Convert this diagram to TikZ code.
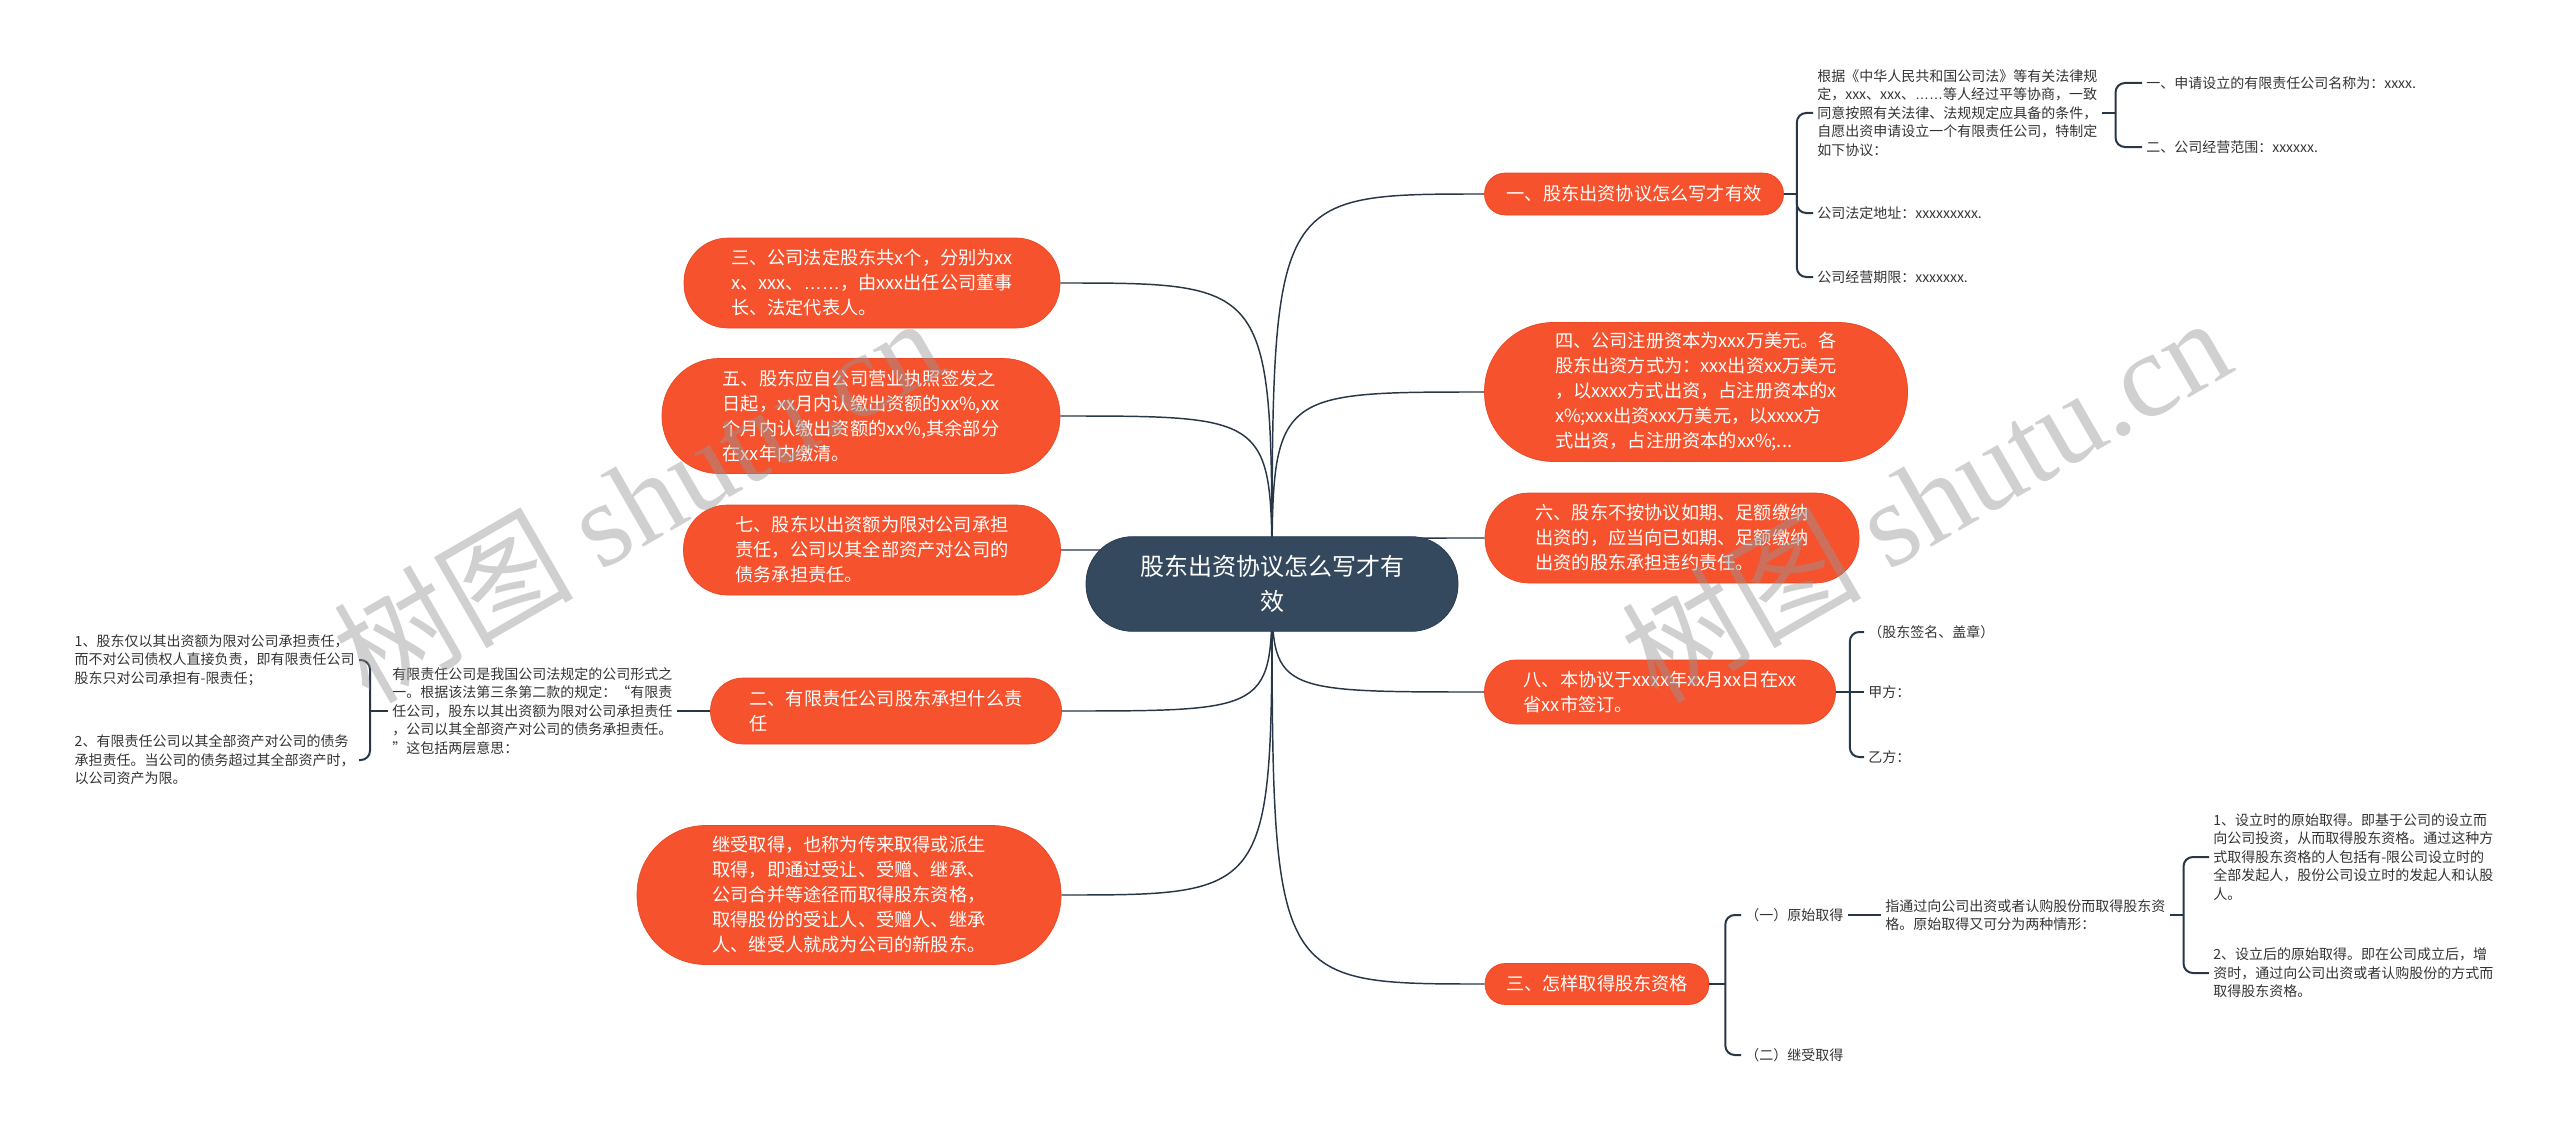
\documentclass[tikz,border=0pt]{standalone}
\usepackage{fontspec}
\setmainfont{Noto Sans CJK SC}
\newfontfamily\wmserif{Liberation Serif}
\newfontfamily\latsans{Liberation Sans}
\newcommand{\bdots}{{\latsans ……}}
\usetikzlibrary{backgrounds}
\definecolor{orng}{RGB}{245,82,45}
\definecolor{orngd}{RGB}{232,72,38}
\definecolor{rootc}{RGB}{52,72,94}
\definecolor{linec}{RGB}{40,55,72}
\definecolor{txtc}{RGB}{51,51,51}
\definecolor{wmc}{RGB}{150,150,150}
\begin{document}
\begin{tikzpicture}[x=0.75pt,y=-0.75pt,
 onode/.style={fill=orng, draw=orngd, line width=0.5pt, text=white, align=left, inner sep=0pt, font=\fontsize{13.65pt}{18.75pt}\selectfont},
 osize/.style n args={3}{minimum width=#1, minimum height=#2, rounded corners=#3},
 leaf/.style={align=left, inner xsep=3pt, inner ysep=1pt, text=txtc, font=\fontsize{10.5pt}{13.9pt}\selectfont},
 conn/.style={draw=linec, line width=1.1pt},
 brk/.style={draw=linec, line width=1.5pt, rounded corners=7pt},
 wm/.style={text=wmc, text opacity=0.45, rotate=30, inner sep=0pt, font=\fontsize{90pt}{90pt}\selectfont}
]
\useasboundingbox (0,0) rectangle (2560,1131);

% root
\node[fill=rootc, draw=rootc!85!black, line width=0.6pt, text=white, align=center, inner sep=0pt,
  minimum width=279pt, minimum height=71pt, rounded corners=35pt,
  font=\fontsize{18pt}{26.25pt}\selectfont] (root) at (1272,584) {股东出资协议怎么写才有\\效};

% left main nodes
\node[onode, osize={282pt}{67.5pt}{33pt}] (L1) at (872,283) {三、公司法定股东共x个，分别为xx\\x、xxx、\bdots，由xxx出任公司董事\\长、法定代表人。};
\node[onode, osize={298.5pt}{86.25pt}{42.5pt}] (L2) at (861,416) {五、股东应自公司营业执照签发之\\日起，xx月内认缴出资额的xx\%,xx\\个月内认缴出资额的xx\%,其余部分\\在xx年内缴清。};
\node[onode, osize={282.75pt}{67.5pt}{33pt}] (L3) at (872,550) {七、股东以出资额为限对公司承担\\责任，公司以其全部资产对公司的\\债务承担责任。};
\node[onode, osize={263.25pt}{49.5pt}{24.5pt}] (L4) at (886,711) {二、有限责任公司股东承担什么责\\任};
\node[onode, osize={318pt}{104.25pt}{51.5pt}] (L5) at (849,895) {继受取得，也称为传来取得或派生\\取得，即通过受让、受赠、继承、\\公司合并等途径而取得股东资格，\\取得股份的受让人、受赠人、继承\\人、继受人就成为公司的新股东。};

% right main nodes
\node[onode, osize={224.25pt}{31.5pt}{15.5pt}] (R1) at (1634,194) {一、股东出资协议怎么写才有效};
\node[onode, osize={317.25pt}{104.25pt}{51.5pt}] (R2) at (1696,392) {四、公司注册资本为xxx万美元。各\\股东出资方式为：xxx出资xx万美元\\，以xxxx方式出资，占注册资本的x\\x\%;xxx出资xxx万美元，以xxxx方\\式出资，占注册资本的xx\%;...};
\node[onode, osize={280.5pt}{67.5pt}{33pt}] (R3) at (1672,538) {六、股东不按协议如期、足额缴纳\\出资的，应当向已如期、足额缴纳\\出资的股东承担违约责任。};
\node[onode, osize={263.25pt}{48pt}{23.5pt}] (R4) at (1660,692) {八、本协议于xxxx年xx月xx日在xx\\省xx市签订。};
\node[onode, osize={168pt}{30.75pt}{15pt}] (R5) at (1597,984) {三、怎样取得股东资格};

% leaves of R1
\node[leaf, anchor=west] (T1) at (1813,113) {根据《中华人民共和国公司法》等有关法律规\\定，xxx、xxx、\bdots 等人经过平等协商，一致\\同意按照有关法律、法规规定应具备的条件，\\自愿出资申请设立一个有限责任公司，特制定\\如下协议：};
\node[leaf, anchor=west] (T1a) at (2142,83) {一、申请设立的有限责任公司名称为：xxxx.};
\node[leaf, anchor=west] (T1b) at (2142,147) {二、公司经营范围：xxxxxx.};
\node[leaf, anchor=west] (T2) at (1813,213) {公司法定地址：xxxxxxxxx.};
\node[leaf, anchor=west] (T3) at (1813,277) {公司经营期限：xxxxxxx.};

% leaves of R4
\node[leaf, anchor=west] (S1) at (1864,632) {（股东签名、盖章）};
\node[leaf, anchor=west] (S2) at (1864,692) {甲方：};
\node[leaf, anchor=west] (S3) at (1864,757) {乙方：};

% leaves of R5
\node[leaf, anchor=west] (P1) at (1741,915) {（一）原始取得};
\node[leaf, anchor=west] (P2) at (1741,1055) {（二）继受取得};
\node[leaf, anchor=west] (Q) at (1881,915) {指通过向公司出资或者认购股份而取得股东资\\格。原始取得又可分为两种情形：};
\node[leaf, anchor=west] (Q1) at (2209,857) {1、设立时的原始取得。即基于公司的设立而\\向公司投资，从而取得股东资格。通过这种方\\式取得股东资格的人包括有-限公司设立时的\\全部发起人，股份公司设立时的发起人和认股\\人。};
\node[leaf, anchor=west] (Q2) at (2209,973) {2、设立后的原始取得。即在公司成立后，增\\资时，通过向公司出资或者认购股份的方式而\\取得股东资格。};

% leaves of L4
\node[leaf, anchor=west] (D) at (388,711) {有限责任公司是我国公司法规定的公司形式之\\一。根据该法第三条第二款的规定：“有限责\\任公司，股东以其出资额为限对公司承担责任\\，公司以其全部资产对公司的债务承担责任。\\”这包括两层意思：};
\node[leaf, anchor=east] (C1) at (359,660) {1、股东仅以其出资额为限对公司承担责任，\\而不对公司债权人直接负责，即有限责任公司\\股东只对公司承担有-限责任；};
\node[leaf, anchor=east] (C2) at (359,760) {2、有限责任公司以其全部资产对公司的债务\\承担责任。当公司的债务超过其全部资产时，\\以公司资产为限。};

\begin{pgfonlayer}{background}
\foreach \n in {R1,R2,R3,R4,R5}
  \draw[conn] (root.center) .. controls (root.center |- \n.west) .. (\n.west);
\foreach \n in {L1,L2,L3,L4,L5}
  \draw[conn] (root.center) .. controls (root.center |- \n.east) .. (\n.east);
\end{pgfonlayer}

% R1 bracket
\draw[brk] (R1.east) -- ++(13,0) coordinate (b1);
\draw[brk] (b1) |- (T1.west);
\draw[brk] (b1) |- (T2.west);
\draw[brk] (b1) |- (T3.west);
% T1 bracket
\draw[brk] (T1.east) -- ++(14,0) coordinate (b2);
\draw[brk] (b2) |- (T1a.west);
\draw[brk] (b2) |- (T1b.west);
% R4 bracket
\draw[brk] (R4.east) -- ++(14,0) coordinate (b3);
\draw[brk] (b3) |- (S1.west);
\draw[brk] (R4.east) -- (S2.west);
\draw[brk] (b3) |- (S3.west);
% R5 bracket
\draw[brk] (R5.east) -- ++(16,0) coordinate (b4);
\draw[brk] (b4) |- (P1.west);
\draw[brk] (b4) |- (P2.west);
\draw[brk] (P1.east) -- (Q.west);
\draw[brk] (Q.east) -- ++(14,0) coordinate (b5);
\draw[brk] (b5) |- (Q1.west);
\draw[brk] (b5) |- (Q2.west);
% L4 bracket
\draw[brk] (L4.west) -- (D.east);
\draw[brk] (D.west) -- ++(-18,0) coordinate (b6);
\draw[brk] (b6) |- (C1.east);
\draw[brk] (b6) |- (C2.east);

% watermarks
\node[wm] (w1) at (637,498) {树图 {\wmserif shutu.cn}};
\node[wm] (w2) at (1925,498) {树图 {\wmserif shutu.cn}};
\end{tikzpicture}
\end{document}
